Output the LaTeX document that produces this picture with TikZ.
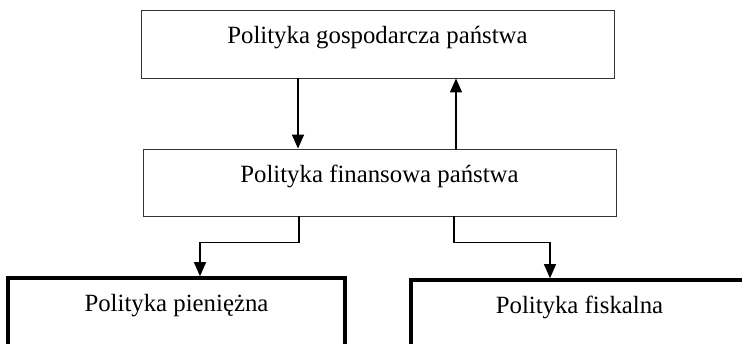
\documentclass[tikz,border=0pt]{standalone}
\usepackage{fontspec}
\setmainfont{Liberation Serif}
\usetikzlibrary{arrows.meta,positioning,calc}

\tikzset{
  blok/.style={draw=black!80, line width=0.9pt, inner sep=0pt,
    minimum width=473pt, text height=34pt, text depth=34pt,
    font=\fontsize{24.8}{28}\selectfont},
  blokgruby/.style={blok, draw=black, line width=3.6pt, minimum width=337pt},
  strz/.style={-{Triangle[length=14pt,width=12pt]}, line width=1.3pt}
}

\begin{document}
\begin{tikzpicture}[x=1pt, y=-1pt]
      \useasboundingbox (0,0) rectangle (742,344);
      \clip (0,0) rectangle (742,344);

      \node[blok] (gosp) at (377.5,44) {Polityka gospodarcza państwa};
      \node[blok, text depth=33pt] (fin) at (379.5,182.5) {Polityka finansowa państwa};
      \node[blokgruby] (piem) at (176.5,312) {Polityka pieniężna};
      \node[blokgruby] (fisk) at (579.5,314) {Polityka fiskalna};

      % polozenie strzalek
      \coordinate (xa) at (298,0);
      \coordinate (xb) at (456,0);
      \coordinate (xc) at (299,0);
      \coordinate (xd) at (454,0);
      \coordinate (xe) at (200,0);
      \coordinate (xf) at (550,0);

      \draw[strz] (gosp.south -| xa) -- (fin.north -| xa);
      \draw[strz] (fin.north -| xb) -- (gosp.south -| xb);
      \draw[strz] (fin.south -| xc) -- ++(0,26) -| (piem.north -| xe);
      \draw[strz] (fin.south -| xd) -- ++(0,26) -| (fisk.north -| xf);
    \end{tikzpicture}
\end{document}
